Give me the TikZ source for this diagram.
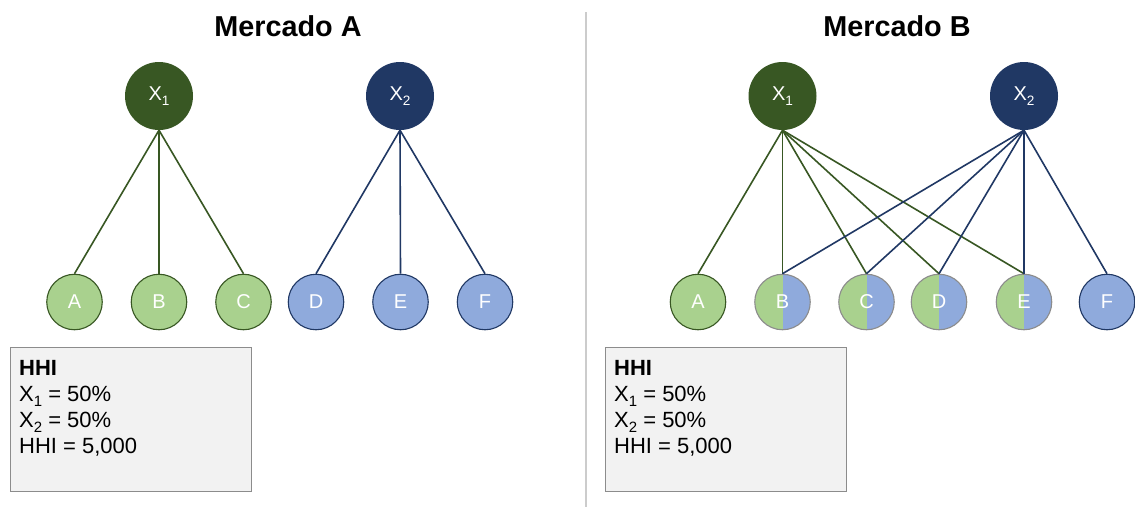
\documentclass[tikz,border=0pt]{standalone}
\usepackage{fontspec}
\setmainfont{Liberation Sans}
\definecolor{firmgreen}{HTML}{385723}
\definecolor{firmblue}{HTML}{203864}
\definecolor{leafgreen}{HTML}{A9D18E}
\definecolor{leafblue}{HTML}{8FAADC}
\definecolor{boxfill}{HTML}{F2F2F2}
\definecolor{boxline}{HTML}{8C8C8C}
\definecolor{divider}{HTML}{CCCCCC}
% lowered, smaller index digit
\newcommand\idx[1]{\raisebox{-0.26em}{\fontsize{0.68\dimexpr\csname f@size\endcsname pt\relax}{1em}\selectfont #1}}
\tikzset{
  firm/.style={circle, minimum size=68pt, inner sep=0pt, text=white,
    font=\fontsize{20}{24}\selectfont},
  firmA/.style={firm, fill=firmgreen},
  firmB/.style={firm, fill=firmblue},
  leaf/.style={circle, minimum size=55.5pt, inner sep=0pt, text=white,
    line width=1.1pt, font=\fontsize{20}{24}\selectfont},
  leafA/.style={leaf, draw=firmgreen, fill=leafgreen},
  leafB/.style={leaf, draw=firmblue, fill=leafblue},
  leafAB/.style={leaf, draw=boxline,
    path picture={
      \fill[leafgreen] (path picture bounding box.south west) rectangle (path picture bounding box.north);
      \fill[leafblue] (path picture bounding box.south) rectangle (path picture bounding box.north east);}},
  linkA/.style={draw=firmgreen, line width=1.6pt},
  linkB/.style={draw=firmblue, line width=1.6pt},
  title/.style={font=\fontsize{28.8}{32}\bfseries\selectfont, anchor=base},
  hhibox/.style={draw=boxline, fill=boxfill, line width=1pt, anchor=north west,
    minimum width=241pt, minimum height=144pt, inner sep=0pt},
  hhitext/.style={anchor=base west, inner sep=0pt, font=\fontsize{22}{26}\selectfont},
}
\begin{document}
\begin{tikzpicture}[x=1pt, y=-1pt]
\useasboundingbox (0,0) rectangle (1135,507);
\fill[white] (0,0) rectangle (1135,507);

% separator between the two markets
\coordinate (sepTop) at (585.5,12);
\coordinate (sepBot) at (585.5,507);
\draw[divider, line width=2pt] (sepTop) -- (sepBot);

% ---------- Mercado A ----------
\node[title] (titleA) at (288,36) {Mercado A};
\node[firmA] (aX1) at (159,96) {X\idx{1}};
\node[firmB] (aX2) at (400,96) {X\idx{2}};
\node[leafA] (aA) at (74.5,302) {A};
\node[leafA] (aB) at (159,302) {B};
\node[leafA] (aC) at (243.5,302) {C};
\node[leafB] (aD) at (316,302) {D};
\node[leafB] (aE) at (400.5,302) {E};
\node[leafB] (aF) at (485,302) {F};
\foreach \t in {aA,aB,aC} \path[linkA] (aX1.south) -- (\t.north);
\foreach \t in {aD,aE,aF} \path[linkB] (aX2.south) -- (\t.north);

\node[hhibox] (boxA) at (10,347) {};
\node[hhitext] (boxA1) at (19,375) {\textbf{HHI}};
\node[hhitext] (boxA2) at (19,401) {X\idx{1} = 50\%};
\node[hhitext] (boxA3) at (19,427) {X\idx{2} = 50\%};
\node[hhitext] (boxA4) at (19,453) {HHI = 5,000};

% ---------- Mercado B ----------
\node[title] (titleB) at (897,36) {Mercado B};
\node[firmA] (bX1) at (782.5,96) {X\idx{1}};
\node[firmB] (bX2) at (1024,96) {X\idx{2}};
\node[leafA] (bA) at (698,302) {A};
\node[leafAB] (bB) at (782.5,302) {B};
\node[leafAB] (bC) at (866.5,302) {C};
\node[leafAB] (bD) at (939,302) {D};
\node[leafAB] (bE) at (1024,302) {E};
\node[leafB] (bF) at (1107,302) {F};
\foreach \t in {bA,bB,bC,bD,bE} \path[linkA] (bX1.south) -- (\t.north);
\foreach \t in {bB,bC,bD,bE,bF} \path[linkB] (bX2.south) -- (\t.north);

\node[hhibox] (boxB) at (605,347) {};
\node[hhitext] (boxB1) at (614,375) {\textbf{HHI}};
\node[hhitext] (boxB2) at (614,401) {X\idx{1} = 50\%};
\node[hhitext] (boxB3) at (614,427) {X\idx{2} = 50\%};
\node[hhitext] (boxB4) at (614,453) {HHI = 5,000};
\end{tikzpicture}
\end{document}
